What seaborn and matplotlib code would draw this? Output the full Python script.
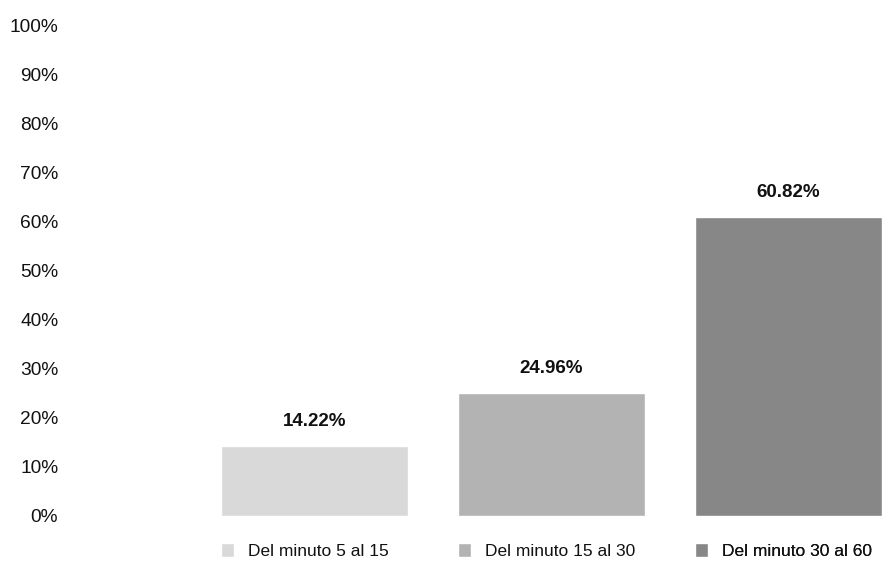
import pandas as pd
import numpy as np
import seaborn as sns
import matplotlib.pyplot as plt
from matplotlib.patches import Patch
import matplotlib.transforms as mtransforms

# data
categorias = ['Del minuto 5 al 15', 'Del minuto 15 al 30', 'Del minuto 30 al 60']
porcentajes = [14.22, 24.96, 60.82]
colores = ['#d9d9d9', '#b3b3b3', '#878787']
yticks = list(range(0, 101, 10))

sns.set_style('white')
plt.rcParams['font.family'] = ['Liberation Sans', 'DejaVu Sans']

data = pd.DataFrame({'Intervalo': categorias, 'Porcentaje': porcentajes})

fig = plt.figure(figsize=(8.87, 5.61), dpi=100)
# axes box in pixels: left 70, right 887, bottom 516 (from top), top 25
ax = fig.add_axes([70 / 887, 45 / 561, 817 / 887, 491 / 561])

sns.barplot(x='Intervalo', y='Porcentaje', data=data, hue='Intervalo',
            palette=colores, width=0.79, saturation=1, legend=False, ax=ax)

ax.set_ylim(0, 100)
ax.set_xlim(-1.032, 2.416)
ax.set_yticks(yticks)
ax.set_yticklabels([f'{t}%' for t in yticks], fontsize=13.8, color='#111111')
ax.tick_params(axis='y', length=0, pad=8.5)
ax.set_xticks([])
ax.set_xlabel('')
ax.set_ylabel('')
sns.despine(ax=ax, left=True, bottom=True)

# value labels
for i, v in enumerate(porcentajes):
    ax.annotate(f'{v:.2f}%', (i, v), xytext=(0, 18), textcoords='offset points',
                ha='center', va='center', fontsize=13.5, fontweight='bold',
                color='#111111')

# one legend entry under each bar
trans = mtransforms.blended_transform_factory(ax.transData, ax.transAxes)
for i, (cat, col) in enumerate(zip(categorias, colores)):
    leg = ax.legend(handles=[Patch(facecolor=col, label=cat)], loc='center left',
                    bbox_to_anchor=(i - 0.395, -0.071), bbox_transform=trans,
                    frameon=False, fontsize=12.5, handlelength=0.75, handleheight=0.9,
                    handletextpad=0.8, borderpad=0, borderaxespad=0,
                    labelcolor='#111111')
    ax.add_artist(leg)

plt.savefig('out.png', dpi=100)
